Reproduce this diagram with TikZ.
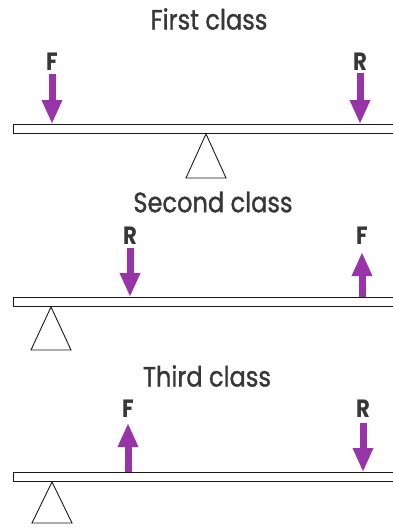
\documentclass[tikz,border=0pt]{standalone}
\usepackage{fontspec}
\setmainfont{Poppins}
\newfontfamily\lvtitlefont[FakeStretch=0.86,FakeBold=1.2]{Poppins}
\newfontfamily\lvlblfont[FakeStretch=0.85]{Poppins}
\usetikzlibrary{arrows.meta,positioning,calc}
\definecolor{lvpurple}{RGB}{150,52,168}
\definecolor{lvink}{RGB}{55,55,55}
\definecolor{lvedge}{RGB}{25,25,25}
\tikzset{
  title/.style={font=\lvtitlefont\fontsize{28}{30}\selectfont, text=lvink, inner sep=0pt},
  lbl/.style={font=\lvlblfont\bfseries\fontsize{25}{26}\selectfont, text=lvink, inner sep=0pt},
  beam/.style={draw=lvedge, fill=white, line width=0.9pt, minimum width=384pt,
    minimum height=9pt, inner sep=0pt, anchor=west},
  force/.style={draw=lvpurple, line width=7pt, -{Triangle[length=24pt,width=19pt]}},
  pivot/.style={draw=lvedge, fill=white, line width=0.9pt, line join=miter}
}

\begin{document}
\begin{tikzpicture}[x=1pt,y=-1pt]
  \useasboundingbox (0,0) rectangle (393,530);

  % first class
  \node[title] (t1) at (209,19) {First class};
  \node[beam] (b1) at (13,129) {};
  \node[lbl] (f1) at (52,62) {F};
  \node[lbl] (r1) at (360,62) {R};
  \coordinate (f1s) at (52,74);
  \coordinate (r1s) at (360,73);
  \coordinate (p1) at (b1.south -| 206,0);
  \draw[force] (f1s) -- (f1s |- b1.north);
  \draw[force] (r1s) -- (r1s |- b1.north);
  \draw[pivot] (p1) -- ++(-20,44) -- ++(40,0) -- cycle;

  % second class
  \node[title] (t2) at (213,202) {Second class};
  \node[beam] (b2) at (13,302) {};
  \node[lbl] (r2) at (130,236) {R};
  \node[lbl] (f2) at (362,236) {F};
  \coordinate (r2s) at (130,248);
  \coordinate (f2e) at (362,252);
  \coordinate (p2) at (b2.south -| 51,0);
  \draw[force] (r2s) -- (r2s |- b2.north);
  \draw[force] (f2e |- b2.north) -- (f2e);
  \draw[pivot] (p2) -- ++(-20,43) -- ++(40,0) -- cycle;

  % third class
  \node[title] (t3) at (207,376) {Third class};
  \node[beam] (b3) at (13,477) {};
  \node[lbl] (f3) at (128,409) {F};
  \node[lbl] (r3) at (363,409) {R};
  \coordinate (f3e) at (128,423);
  \coordinate (r3s) at (363,423);
  \coordinate (p3) at (b3.south -| 52,0);
  \draw[force] (f3e |- b3.north) -- (f3e);
  \draw[force] (r3s) -- (r3s |- b3.north);
  \draw[pivot] (p3) -- ++(-20,41) -- ++(40,0) -- cycle;
\end{tikzpicture}
\end{document}
